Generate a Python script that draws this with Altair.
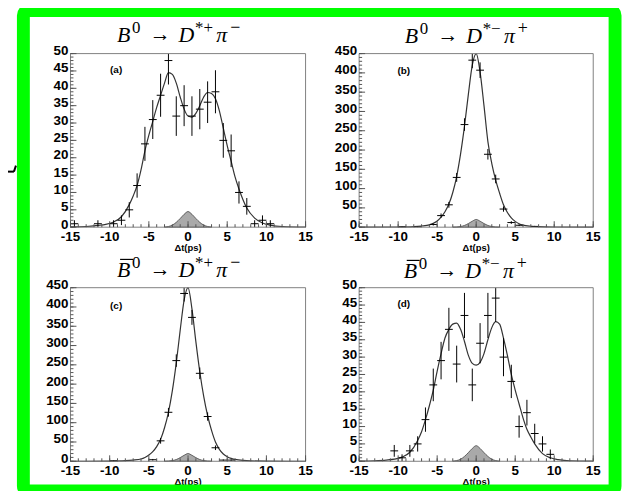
import altair as alt
import pandas as pd

# ---------------- data ----------------
# panel (a)  B0 -> D*+ pi-
a_x = [-14.5, -11.5, -9.5, -8.5, -7.5, -6.5, -5.5, -4.5, -3.5, -2.5, -1.5, -0.5,
       0.5, 1.5, 2.5, 3.5, 4.5, 5.5, 6.5, 7.5, 8.5, 9.5, 10.5]
a_y = [1, 1, 1, 2, 5, 12, 24, 31, 38, 48, 32, 35, 32, 34, 36, 39, 25, 22, 10, 6, 1, 2, 1]
a_err = [1, 1, 1, 1.4, 2.2, 3.5, 4.9, 5.6, 6.2, 6.9, 5.7, 5.9, 5.7, 5.8, 6, 6.2, 5,
         4.7, 3.2, 2.4, 1, 1.4, 1]

# panel (b)  B0 -> D*- pi+
b_x = [-9.5, -7.5, -5.5, -4.5, -3.5, -2.5, -1.5, -0.5, 0.5, 1.5, 2.5, 3.5, 4.5, 5.5, 7.5]
b_y = [1, 1, 7, 30, 58, 129, 266, 433, 407, 189, 125, 47, 12, 5, 2]
b_err = [1, 1, 2.6, 5.5, 7.6, 11.4, 16.3, 20.8, 20.2, 13.7, 11.2, 6.9, 3.5, 2.2, 1.4]

# panel (c)  B0bar -> D*+ pi-
c_x = [-9.5, -4.5, -3.5, -2.5, -1.5, -0.5, 0.5, 1.5, 2.5, 3.5, 4.5, 5.5]
c_y = [1, 4, 53, 127, 261, 435, 373, 228, 116, 35, 3, 3]
c_err = [1, 2, 7.3, 11.3, 16.2, 20.9, 19.3, 15.1, 10.8, 5.9, 1.8, 1.8]

# panel (d)  B0bar -> D*- pi+
d_x = [-10.5, -9.5, -8.5, -7.5, -6.5, -5.5, -4.5, -3.5, -2.5, -1.5, -0.5, 0.5,
       1.5, 2.5, 3.5, 4.5, 5.5, 6.5, 7.5, 8.5, 9.5]
d_y = [3, 1, 3, 5, 12, 22, 29, 38, 28, 42, 22, 34, 42, 47, 30, 23, 10, 14, 8, 5, 2]
d_err = [1.7, 1, 1.7, 2.2, 3.5, 4.7, 5.4, 6.2, 5.3, 6.5, 4.7, 5.8, 6.5, 6.9, 5.5,
         4.8, 3.2, 3.7, 2.8, 2.2, 1.4]

# fitted curves
wide_cx = [-15, -13, -11.5, -10.5, -9.5, -8.5, -7.5, -7, -6.5, -6, -5.5, -5, -4.5, -4,
           -3.5, -3, -2.5, -2, -1.5, -1, -0.5, 0, 0.5, 1, 1.5, 2, 2.5, 3, 3.5, 4,
           4.5, 5, 5.5, 6, 6.5, 7, 7.5, 8.5, 9.5, 10.5, 12, 15]
curve_a = [0.1, 0.2, 0.5, 0.8, 1.5, 3, 6.5, 9, 12, 16.5, 22, 26.5, 30.5, 34.5,
           38, 41.5, 44.5, 44, 41.5, 37.5, 34, 32, 31.7, 32.8, 35, 37.5, 38.8, 38.5, 37, 33.5,
           28.5, 23.5, 19, 14.5, 11, 8, 5.5, 2.6, 1.2, 0.6, 0.2, 0.05]
curve_d = [0.05, 0.15, 0.35, 0.6, 1.2, 2.6, 6, 8.5, 12, 16, 20.5, 26, 31, 35.5,
           38, 39.5, 39.8, 38, 34.5, 30.5, 28.2, 27.7, 28.5, 31, 35, 38.5, 40.2, 39.5, 35.5, 30.5,
           25, 20.5, 16.5, 12.5, 9.2, 7, 5, 2.2, 1, 0.5, 0.15, 0.05]
peak_cx = [-15, -10, -8, -7, -6, -5.5, -5, -4.5, -4, -3.5, -3, -2.5, -2, -1.5, -1, -0.5,
           0, 0.5, 1, 1.5, 2, 2.5, 3, 3.5, 4, 4.5, 5, 5.5, 6, 7, 8, 10, 15]
curve_b = [0, 0.5, 1.5, 3, 6, 10, 16, 26, 40, 60, 90, 132, 190, 262, 345, 420,
           450, 402, 315, 222, 165, 122, 88, 58, 38, 24, 15, 9, 5.5, 2.5, 1.2, 0.4, 0]
curve_c = [0, 0.5, 1.5, 3, 6, 10, 16, 25, 38, 57, 87, 127, 183, 255, 340, 418,
           450, 395, 310, 232, 168, 118, 80, 50, 31, 19, 12, 7.5, 5, 2.3, 1.1, 0.4, 0]

# hatched background component
bg_x = [-3, -2.5, -2, -1.5, -1, -0.5, 0, 0.5, 1, 1.5, 2, 2.5, 3]
bg_small = [0, 0.2, 0.6, 1.4, 2.5, 3.7, 4.5, 3.7, 2.5, 1.4, 0.6, 0.2, 0]
bg_large = [0, 0.5, 1.8, 4.5, 9.5, 15.5, 20, 15.5, 9.5, 4.5, 1.8, 0.5, 0]

# axes
x_ticks = [-15, -10, -5, 0, 5, 10, 15]
x_minor = list(range(-15, 16))
y_ticks_50 = list(range(0, 51, 5))
y_minor_50 = list(range(0, 51))
y_ticks_450 = list(range(0, 451, 50))
y_minor_450 = list(range(0, 451, 10))

tags = ["(a)", "(b)", "(c)", "(d)"]
x_title = "Δt(ps)"
# title pieces: charge of D* and of pi, and whether the B is a B-bar
title_signs = [("+", "−"), ("−", "+"), ("+", "−"), ("−", "+")]
title_bar = [False, False, True, True]

# ---------------- layout ----------------
W, H = 619, 483
FONT = "Liberation Sans"
SERIF = "Liberation Serif"
ONE = pd.DataFrame({"k": [0]})
TICK = "#555555"


def panel(x0, x1, yt, yb, ymax, px, py, perr, cx, cy, bgy, yt_vals, ym_vals):
    xs = alt.Scale(domain=[-15, 15], range=[x0, x1], nice=False, zero=False)
    ys = alt.Scale(domain=[0, ymax], range=[yb, yt], nice=False, zero=False, clamp=True)
    pts = pd.DataFrame({
        "x": px, "y": py,
        "lo": [v - e for v, e in zip(py, perr)],
        "hi": [v + e for v, e in zip(py, perr)],
        "xl": [v - 0.5 for v in px],
        "xr": [v + 0.5 for v in px],
    })
    cdf = pd.DataFrame({"x": cx, "y": cy})
    bdf = pd.DataFrame({"x": bg_x, "y": bgy})
    fdf = pd.DataFrame({"x0": [-15], "x1": [15], "y0": [0], "y1": [ymax]})
    xl = pd.DataFrame({"t": x_ticks, "lab": [str(v) for v in x_ticks]})
    yl = pd.DataFrame({"t": yt_vals, "lab": [str(v) for v in yt_vals]})

    X = lambda f: alt.X(f, scale=xs, axis=None)
    Y = lambda f: alt.Y(f, scale=ys, axis=None)

    frame = alt.Chart(fdf).mark_rect(fillOpacity=0, stroke="#808080", strokeWidth=1).encode(
        x=X("x0:Q"), x2="x1:Q", y=Y("y0:Q"), y2="y1:Q")
    bg = alt.Chart(bdf).mark_area(fill="#a9a9a9", stroke="#444444", strokeWidth=0.8,
                                  interpolate="monotone").encode(x=X("x:Q"), y=Y("y:Q"))
    curve = alt.Chart(cdf).mark_line(color="#333333", strokeWidth=1.2,
                                     interpolate="monotone").encode(x=X("x:Q"), y=Y("y:Q"))
    vbar = alt.Chart(pts).mark_rule(color="black", strokeWidth=1).encode(
        x=X("x:Q"), y=Y("lo:Q"), y2="hi:Q")
    hbar = alt.Chart(pts).mark_rule(color="black", strokeWidth=1).encode(
        x=X("xl:Q"), x2="xr:Q", y=Y("y:Q"))

    xmaj = alt.Chart(pd.DataFrame({"t": x_ticks})).mark_rule(color=TICK).encode(
        x=X("t:Q"), y=alt.value(yb), y2=alt.value(yb - 6))
    xmin = alt.Chart(pd.DataFrame({"t": x_minor})).mark_rule(color=TICK).encode(
        x=X("t:Q"), y=alt.value(yb), y2=alt.value(yb - 3))
    ymaj = alt.Chart(pd.DataFrame({"t": yt_vals})).mark_rule(color=TICK).encode(
        y=Y("t:Q"), x=alt.value(x0), x2=alt.value(x0 + 6))
    ymin = alt.Chart(pd.DataFrame({"t": ym_vals})).mark_rule(color=TICK).encode(
        y=Y("t:Q"), x=alt.value(x0), x2=alt.value(x0 + 3))

    xlab = alt.Chart(xl).mark_text(font=FONT, fontWeight="bold", fontSize=13.5,
                                   align="center", baseline="top", dy=2.5,
                                   color="black").encode(
        x=X("t:Q"), y=alt.value(yb), text="lab:N")
    ylab = alt.Chart(yl).mark_text(font=FONT, fontWeight="bold", fontSize=13.5,
                                   align="right", baseline="middle", dy=-2.5,
                                   color="black").encode(
        y=Y("t:Q"), x=alt.value(x0 - 2), text="lab:N")
    xtit = alt.Chart(ONE).mark_text(font=FONT, fontWeight="bold", fontSize=9.5,
                                    align="center", baseline="top", color="black").encode(
        x=alt.value((x0 + x1) / 2), y=alt.value(yb + 16), text=alt.value(x_title))
    return alt.layer(bg, curve, vbar, hbar, frame, xmaj, xmin, ymaj, ymin, xlab, ylab, xtit)


pa = panel(63, 300, 44, 219, 50, a_x, a_y, a_err, wide_cx, curve_a, bg_small,
           y_ticks_50, y_minor_50)
pb = panel(354, 590, 44, 219, 450, b_x, b_y, b_err, peak_cx, curve_b, bg_large,
           y_ticks_450, y_minor_450)
pc = panel(63, 300, 280, 455, 450, c_x, c_y, c_err, peak_cx, curve_c, bg_large,
           y_ticks_450, y_minor_450)
pd_ = panel(354, 590, 280, 455, 50, d_x, d_y, d_err, wide_cx, curve_d, bg_small,
            y_ticks_50, y_minor_50)


def txt(s, x, y, size, font, style="normal", weight="normal", align="left"):
    return alt.Chart(ONE).mark_text(font=font, fontSize=size, fontStyle=style,
                                    fontWeight=weight, align=align,
                                    baseline="alphabetic", color="black").encode(
        x=alt.value(x), y=alt.value(y), text=alt.value(s))


def math_title(x, y, signs, bar):
    s1, s2 = signs
    parts = [
        txt("B", x, y, 22, SERIF, "italic"),
        txt("0", x + 15, y - 9, 17, SERIF),
        txt("→", x + 33, y - 1, 21, SERIF),
        txt("D", x + 62, y, 22, SERIF, "italic"),
        txt("*", x + 78.5, y - 9, 17, SERIF),
        txt(s1, x + 87, y - 9, 17, SERIF),
        txt("π", x + 100, y, 22, SERIF, "italic"),
        txt(s2, x + 114, y - 9, 18, SERIF),
    ]
    if bar:
        parts.append(alt.Chart(ONE).mark_rule(color="black", strokeWidth=1.2).encode(
            x=alt.value(x + 3), x2=alt.value(x + 16),
            y=alt.value(y - 17.5), y2=alt.value(y - 17.5)))
    return parts


deco = []
deco += math_title(110, 32, title_signs[0], title_bar[0])
deco += math_title(400, 33, title_signs[1], title_bar[1])
deco += math_title(110, 269, title_signs[2], title_bar[2])
deco += math_title(399, 270, title_signs[3], title_bar[3])
deco += [
    txt(tags[0], 109, 64, 10, FONT, weight="bold", align="center"),
    txt(tags[1], 399, 65, 10, FONT, weight="bold", align="center"),
    txt(tags[2], 109, 301, 10, FONT, weight="bold", align="center"),
    txt(tags[3], 399, 299, 10, FONT, weight="bold", align="center"),
]

bracket = [
    alt.Chart(ONE).mark_rule(color="black", strokeWidth=2).encode(
        x=alt.value(0), x2=alt.value(6), y=alt.value(163), y2=alt.value(163)),
    alt.Chart(ONE).mark_rule(color="black", strokeWidth=2).encode(
        x=alt.value(6), x2=alt.value(8), y=alt.value(163), y2=alt.value(157)),
]

green = alt.Chart(ONE).mark_rect(fillOpacity=0, stroke="#00ff00", strokeWidth=13,
                                 cornerRadius=5).encode(
    x=alt.value(15.5), x2=alt.value(612), y=alt.value(0.5), y2=alt.value(485))

chart = alt.layer(pa, pb, pc, pd_, *deco, *bracket, green).resolve_scale(
    x="independent", y="independent").properties(
    width=W, height=H, padding=0, background="white",
    autosize=alt.AutoSizeParams(type="none")).configure_view(strokeWidth=0)

chart.save("out.html", embed_options={"renderer": "svg", "actions": False})
